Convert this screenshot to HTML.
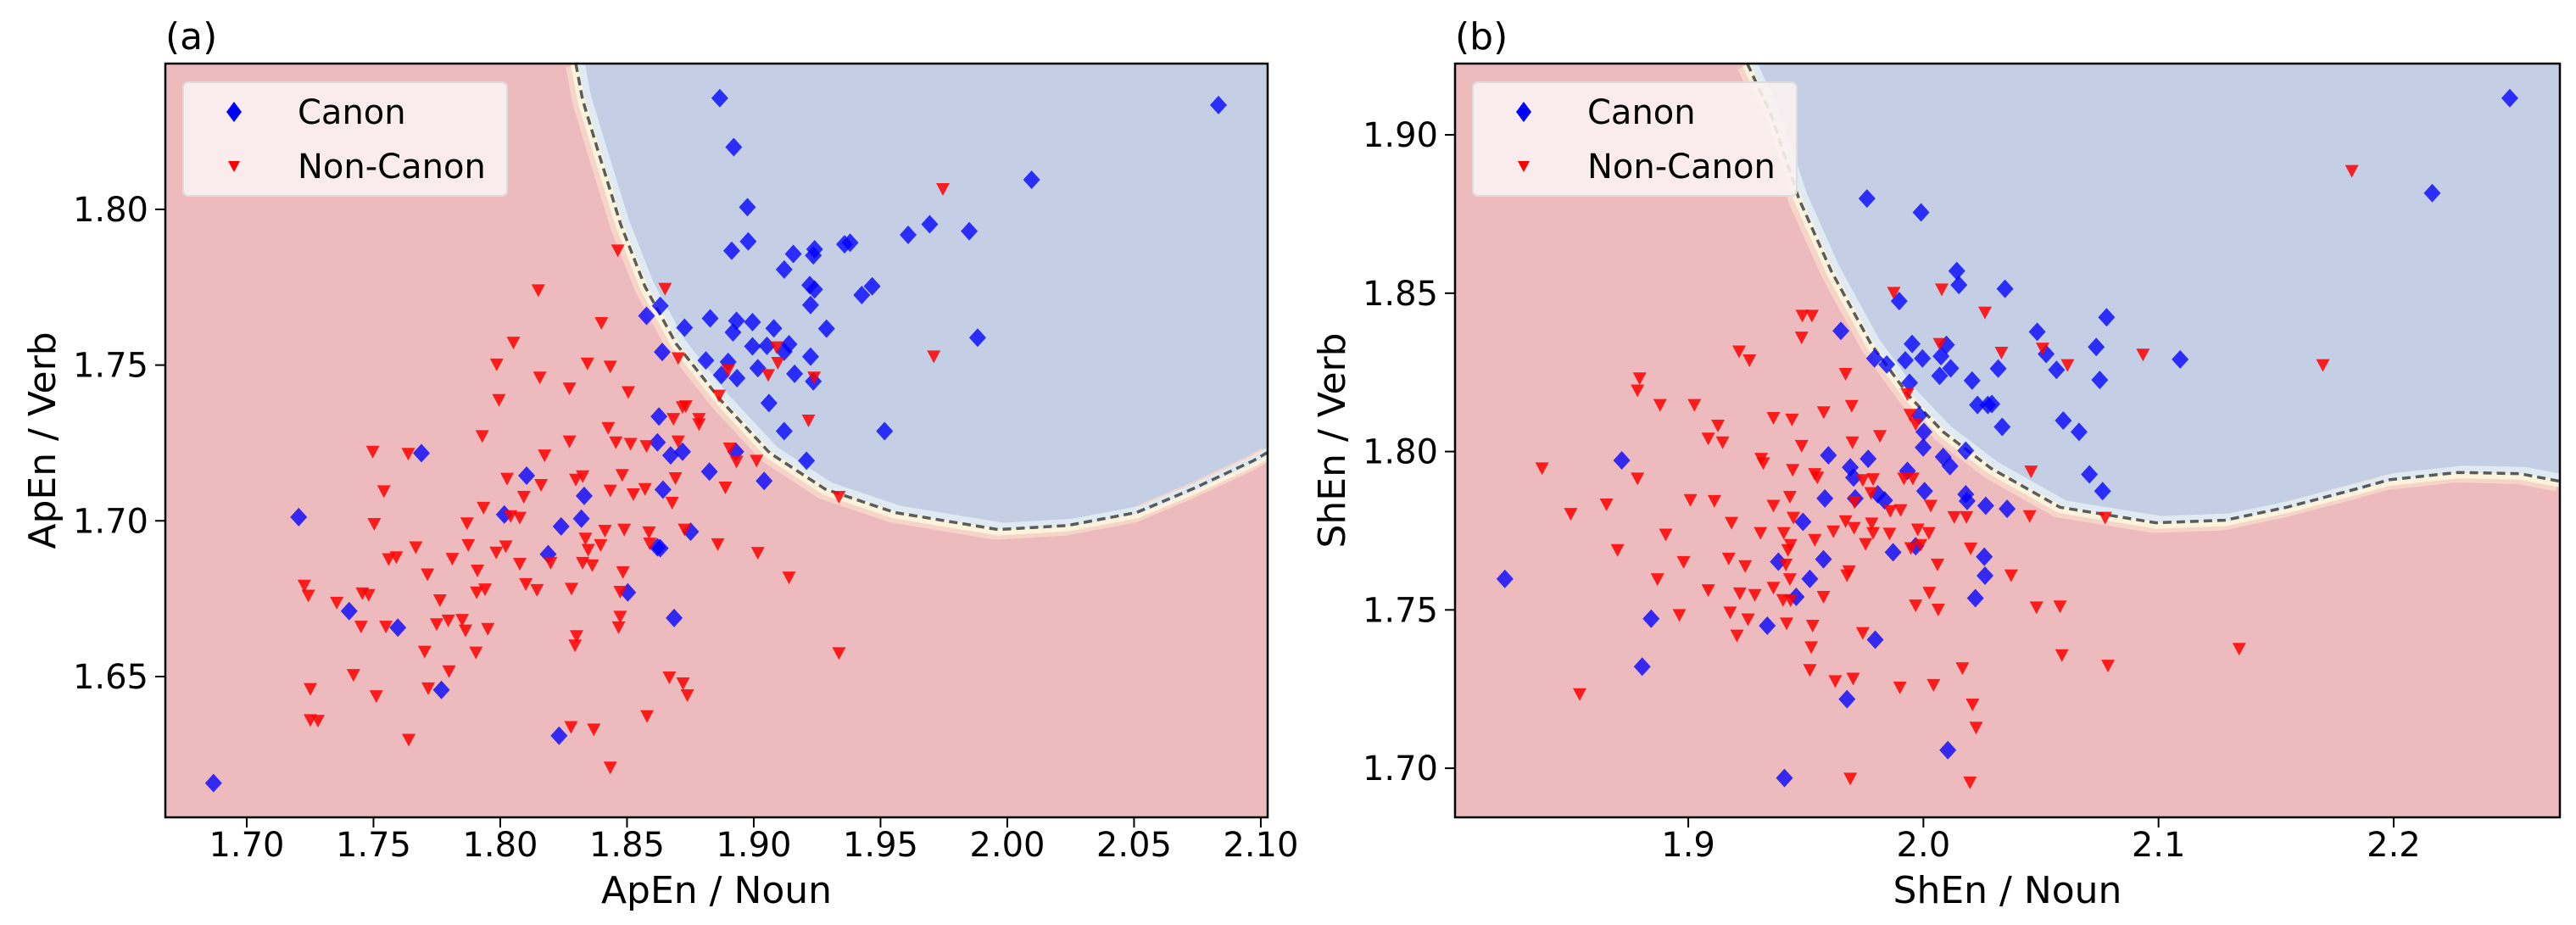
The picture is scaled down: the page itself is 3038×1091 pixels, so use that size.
<!DOCTYPE html>
<html><head><meta charset="utf-8"><style>
html,body{margin:0;padding:0;background:#fff;}
svg{display:block;font-family:"DejaVu Sans","Liberation Sans",sans-serif;}
</style></head><body>
<svg id="chart" width="3038" height="1091" viewBox="0 0 3038 1091" xmlns="http://www.w3.org/2000/svg"></svg>
<script>
// ---------- Panel (a) data ----------
const aTicksX = [1.70,1.75,1.80,1.85,1.90,1.95,2.00,2.05,2.10];
const aTicksY = [1.65,1.70,1.75,1.80];
const aCanonX = [1.8866,2.0833,1.8921,2.0096,1.8975,1.9694,1.9609,1.9850,1.8978,1.8913,1.9156,1.9240,1.9235,1.9120,1.9358,1.9380,1.9221,1.9240,1.9426,1.9467,1.9224,1.8631,1.8577,1.8828,1.8932,1.8995,1.8727,1.8918,1.9079,1.9287,1.8995,1.9052,1.9139,1.9120,1.9224,1.9883,1.8639,1.8811,1.8899,1.9016,1.8872,1.8934,1.9161,1.9235,1.9060,1.9120,1.9516,1.9208,1.8626,1.8620,1.8672,1.8719,1.8929,1.8825,1.9041,1.8642,1.7689,1.8104,1.8331,1.7205,1.8016,1.8320,1.8240,1.8189,1.8751,1.8620,1.8631,1.8503,1.7404,1.7596,1.8686,1.7768,1.8232,1.6869];
const aCanonY = [1.8357,1.8335,1.8200,1.8095,1.8007,1.7952,1.7918,1.7930,1.7897,1.7867,1.7857,1.7872,1.7852,1.7807,1.7888,1.7893,1.7757,1.7743,1.7725,1.7753,1.7693,1.7690,1.7658,1.7650,1.7642,1.7638,1.7620,1.7605,1.7618,1.7617,1.7560,1.7562,1.7567,1.7543,1.7527,1.7588,1.7542,1.7515,1.7510,1.7490,1.7468,1.7458,1.7472,1.7448,1.7378,1.7288,1.7288,1.7193,1.7335,1.7252,1.7210,1.7222,1.7222,1.7158,1.7128,1.7100,1.7217,1.7145,1.7080,1.7012,1.7020,1.7007,1.6982,1.6893,1.6965,1.6915,1.6912,1.6770,1.6710,1.6657,1.6688,1.6457,1.6310,1.6158];
const aNonX = [1.8464,1.8150,1.8650,1.8399,1.8052,1.7986,1.8344,1.8434,1.8156,1.7995,1.8273,1.8505,1.8702,1.8732,1.8719,1.8784,1.8683,1.8784,1.8863,1.8899,1.9057,1.9090,1.9095,1.9238,1.9216,1.9746,1.9710,1.8426,1.7929,1.8273,1.8456,1.8514,1.8577,1.8702,1.8905,1.8932,1.9011,1.7497,1.7637,1.8175,1.7541,1.8027,1.8161,1.8298,1.8325,1.8481,1.8691,1.8434,1.8525,1.8571,1.8678,1.8888,1.9336,1.8093,1.7934,1.7503,1.7869,1.8041,1.8077,1.8413,1.8489,1.8587,1.8727,1.7667,1.7874,1.8022,1.8336,1.8396,1.8590,1.8858,1.9016,1.8347,1.7590,1.7560,1.7811,1.7984,1.8077,1.8199,1.8325,1.8363,1.8484,1.7713,1.7910,1.9139,1.7227,1.7243,1.7940,1.7907,1.8101,1.8145,1.8281,1.8473,1.7355,1.7456,1.7481,1.7762,1.7451,1.7549,1.7749,1.7795,1.7850,1.7863,1.7951,1.8473,1.8467,1.8301,1.8295,1.7702,1.7904,1.9336,1.7798,1.7421,1.7251,1.7716,1.7511,1.8667,1.8721,1.8738,1.7251,1.7281,1.7639,1.8279,1.8369,1.8579,1.8434];
const aNonY = [1.7868,1.7740,1.7745,1.7635,1.7572,1.7502,1.7505,1.7495,1.7460,1.7388,1.7425,1.7413,1.7522,1.7368,1.7365,1.7327,1.7327,1.7310,1.7402,1.7483,1.7468,1.7557,1.7507,1.7460,1.7322,1.8065,1.7528,1.7298,1.7272,1.7255,1.7252,1.7247,1.7240,1.7255,1.7232,1.7190,1.7193,1.7222,1.7215,1.7210,1.7095,1.7135,1.7115,1.7132,1.7143,1.7147,1.7137,1.7097,1.7085,1.7102,1.7058,1.7107,1.7077,1.7077,1.7042,1.6990,1.6992,1.7015,1.7010,1.6968,1.6972,1.6963,1.6972,1.6915,1.6922,1.6918,1.6943,1.6922,1.6927,1.6925,1.6897,1.6907,1.6883,1.6877,1.6878,1.6898,1.6862,1.6865,1.6865,1.6857,1.6835,1.6828,1.6840,1.6818,1.6792,1.6760,1.6780,1.6770,1.6797,1.6778,1.6782,1.6772,1.6737,1.6767,1.6762,1.6745,1.6660,1.6660,1.6668,1.6680,1.6682,1.6648,1.6653,1.6692,1.6658,1.6630,1.6600,1.6580,1.6577,1.6575,1.6517,1.6505,1.6460,1.6462,1.6437,1.6497,1.6478,1.6440,1.6360,1.6358,1.6297,1.6338,1.6330,1.6373,1.6208];
const aBoundX = [1.8298,1.8325,1.8393,1.8475,1.8571,1.8694,1.8872,1.9063,1.9281,1.9555,1.9964,2.0238,2.0511,2.0730,2.0970,2.1027];
const aBoundY = [1.8468,1.8352,1.8168,1.7952,1.7752,1.7568,1.7385,1.7218,1.7102,1.7027,1.6972,1.6985,1.7027,1.7102,1.7193,1.7220];

// ---------- Panel (b) data ----------
const bTicksX = [1.9,2.0,2.1,2.2];
const bTicksY = [1.70,1.75,1.80,1.85,1.90];
const bCanonX = [2.2494,2.2164,1.9760,1.9990,2.0142,2.0151,2.0347,1.9897,2.0779,2.0484,1.9649,1.9952,2.0098,2.0735,2.1092,1.9792,1.9844,1.9923,1.9996,2.0075,2.0116,2.0069,2.0318,2.0522,2.0566,2.0750,1.9941,2.0207,2.0230,2.0274,2.0291,2.0335,2.0595,2.0662,1.9982,2.0002,1.9999,2.0180,2.0084,2.0113,2.0706,2.0762,1.9596,1.9765,1.9689,1.9703,1.9932,1.8717,1.9806,1.9835,1.9710,1.9581,2.0005,2.0180,2.0186,2.0265,2.0356,1.9488,1.9871,1.9967,1.9575,2.0259,1.9383,2.0262,1.9517,1.9459,2.0221,1.8220,1.8842,1.9336,1.9795,1.8804,1.9675,2.0104,1.9409];
const bCanonY = [1.9116,1.8816,1.8799,1.8755,1.8570,1.8526,1.8514,1.8475,1.8424,1.8378,1.8381,1.8340,1.8337,1.8330,1.8291,1.8294,1.8275,1.8288,1.8294,1.8301,1.8263,1.8239,1.8262,1.8308,1.8258,1.8226,1.8217,1.8224,1.8147,1.8147,1.8150,1.8078,1.8098,1.8062,1.8114,1.8062,1.8013,1.8003,1.7983,1.7954,1.7928,1.7875,1.7988,1.7977,1.7950,1.7918,1.7939,1.7972,1.7865,1.7846,1.7852,1.7852,1.7875,1.7865,1.7844,1.7829,1.7819,1.7778,1.7682,1.7701,1.7660,1.7668,1.7652,1.7608,1.7598,1.7541,1.7537,1.7598,1.7472,1.7450,1.7406,1.7321,1.7218,1.7057,1.6969];
const bNonX = [2.1822,1.9874,2.0078,2.0262,1.9485,1.9526,1.9482,1.9216,1.9260,2.0069,2.0332,2.0507,2.0613,2.0934,2.1699,1.9669,1.8793,1.8784,1.8880,1.9026,1.9695,1.9576,1.9362,1.9441,1.9932,1.9944,1.9967,1.9126,1.9085,1.9146,1.9698,1.9815,1.9482,1.8378,1.9310,1.9319,1.9444,1.9538,1.9549,1.8784,1.9742,1.9786,1.9917,1.9955,2.0458,1.9777,1.8652,1.8500,1.9009,1.9111,1.9432,1.9362,1.9707,1.9859,1.9903,2.0031,2.0131,2.0183,2.0452,2.0773,1.9447,1.9184,1.9669,1.9780,1.8904,1.9307,1.9406,1.9538,1.9617,1.9705,1.9786,1.9856,1.9976,2.0023,1.8699,1.9435,1.9424,1.9754,1.9947,1.9988,2.0201,1.8980,1.9172,1.9415,1.9242,2.0060,1.9684,1.9675,1.8869,1.9432,2.0373,1.9085,1.9219,1.9283,1.9362,1.9403,1.9435,1.9575,2.0025,1.9967,2.0063,2.0481,2.0581,1.8962,1.9178,1.9254,1.9418,1.9529,1.9207,1.9742,1.9523,2.0589,2.0785,2.1343,1.9517,2.0166,1.9625,1.9701,1.8538,1.9900,2.0043,2.0209,2.0224,1.9689,2.0198];
const bNonY = [1.8886,1.8501,1.8512,1.8439,1.8429,1.8429,1.8360,1.8316,1.8288,1.8340,1.8312,1.8325,1.8273,1.8306,1.8273,1.8245,1.8231,1.8193,1.8147,1.8147,1.8144,1.8124,1.8106,1.8101,1.8181,1.8116,1.8087,1.8082,1.8041,1.8029,1.8029,1.8049,1.8018,1.7947,1.7977,1.7963,1.7942,1.7929,1.7918,1.7915,1.7910,1.7913,1.7915,1.7915,1.7937,1.7869,1.7833,1.7803,1.7847,1.7844,1.7857,1.7829,1.7840,1.7812,1.7815,1.7829,1.7793,1.7793,1.7796,1.7791,1.7791,1.7775,1.7780,1.7773,1.7738,1.7743,1.7743,1.7721,1.7748,1.7759,1.7743,1.7741,1.7754,1.7743,1.7689,1.7705,1.7689,1.7708,1.7695,1.7705,1.7694,1.7651,1.7662,1.7643,1.7638,1.7643,1.7622,1.7609,1.7597,1.7597,1.7609,1.7562,1.7552,1.7547,1.7570,1.7531,1.7530,1.7541,1.7554,1.7514,1.7501,1.7508,1.7511,1.7484,1.7492,1.7470,1.7457,1.7450,1.7419,1.7427,1.7382,1.7357,1.7324,1.7377,1.7310,1.7316,1.7275,1.7283,1.7234,1.7255,1.7263,1.7201,1.7128,1.6967,1.6955];
const bBoundX = [1.9251,1.9353,1.9470,1.9608,1.9777,1.9938,2.0084,2.0288,2.0581,2.0989,2.1282,2.1545,2.1837,2.1983,2.2275,2.2538,2.2707];
const bBoundY = [1.9225,1.9062,1.8799,1.8570,1.8340,1.8176,1.8062,1.7947,1.7824,1.7775,1.7783,1.7824,1.7881,1.7911,1.7934,1.7930,1.7906];

const NS = 'http://www.w3.org/2000/svg';
const svg = document.getElementById('chart');
function mk(tag, attrs, parent){const e=document.createElementNS(NS,tag);for(const k in attrs)e.setAttribute(k,attrs[k]);(parent||svg).appendChild(e);return e;}

function panel(cfg){
  const {L,R,T,B,x0,x1,y0,y1} = cfg;
  const sx = v => L + (v - x0) / (x1 - x0) * (R - L);
  const sy = v => B - (v - y0) / (y1 - y0) * (B - T);
  const g = mk('g', {});
  
  
  const clipId = cfg.name + '-clip';
  const defs = mk('defs', {}, g);
  const cp = mk('clipPath', {id: clipId}, defs);
  mk('rect', {x:L, y:T, width:R-L, height:B-T}, cp);
  const bg = mk('rect', {x:L, y:T, width:R-L, height:B-T, fill:'#edbbbd'}, g);
  
  
  const pg = mk('g', {'clip-path': 'url(#' + clipId + ')'}, g);
  let pts = cfg.bx.map((v,i) => sx(v).toFixed(1) + ',' + sy(cfg.by[i]).toFixed(1));
  const curve = 'M' + pts.join(' L');
  const region = mk('path', {d: curve + ' L' + (R+5) + ',' + (T-5) + ' L' + sx(cfg.bx[0]) + ',' + (T-5) + ' Z', fill:'#c4cfe6'}, pg);
  
  
  const b1 = mk('path', {d: curve, fill:'none', stroke:'#f6d4c8', 'stroke-width':18, transform:'translate(-3,3)'}, pg);
  
  
  const b2 = mk('path', {d: curve, fill:'none', stroke:'#fbf3dc', 'stroke-width':12, transform:'translate(0,1)'}, pg);
  
  
  const b3 = mk('path', {d: curve, fill:'none', stroke:'#dfeaf2', 'stroke-width':8, transform:'translate(6,-4)'}, pg);
  
  
  const dash = mk('path', {d: curve, fill:'none', stroke:'#4a4a4a', 'stroke-width':3.5, 'stroke-dasharray':'10,6', opacity:0.9}, pg);
  
  
  for (let i=0;i<cfg.cx.length;i++){
    const x=sx(cfg.cx[i]), y=sy(cfg.cy[i]);
    const p = mk('polygon', {points:`${x},${y-11} ${x+10},${y} ${x},${y+11} ${x-10},${y}`, fill:'#0000ff', 'fill-opacity':0.78}, pg);
    
    
  }
  for (let i=0;i<cfg.nx.length;i++){
    const x=sx(cfg.nx[i]), y=sy(cfg.ny[i]);
    const p = mk('polygon', {points:`${x-8},${y-7} ${x+8},${y-7} ${x},${y+8}`, fill:'#ff0000', 'fill-opacity':0.85}, pg);
    
    
  }
  const lg = mk('g', {}, g);
  
  
  const lx = L + 21;
  mk('rect', {x:lx, y:97, width:cfg.legW, height:134, rx:6, fill:'#fbf1f1', 'fill-opacity':0.9, stroke:'#dddddd', 'stroke-width':2}, lg);
  const d1 = mk('polygon', {points:`${lx+60},${120} ${lx+69},${132} ${lx+60},${144} ${lx+51},${132}`, fill:'#0000ff'}, lg);
  
  
  const t1 = mk('text', {x:lx+135, y:146, 'font-size':40, fill:'#000'}, lg); t1.textContent='Canon';
  
  
  const d2 = mk('polygon', {points:`${lx+53},${190} ${lx+67},${190} ${lx+60},${203}`, fill:'#ff0000'}, lg);
  
  
  const t2 = mk('text', {x:lx+135, y:210, 'font-size':40, fill:'#000'}, lg); t2.textContent='Non-Canon';
  
  
  mk('rect', {x:L, y:T, width:R-L, height:B-T, fill:'none', stroke:'#000', 'stroke-width':2.5}, g);
  cfg.tx.forEach(v=>{
    const x=sx(v);
    mk('line',{x1:x,y1:B,x2:x,y2:B+12,stroke:'#000','stroke-width':2},g);
    const t=mk('text',{x:x,y:1010,'font-size':40,'text-anchor':'middle',fill:'#000'},g);
    t.textContent = v.toFixed(cfg.xdec);
    
    
  });
  cfg.ty.forEach(v=>{
    const y=sy(v);
    mk('line',{x1:L-12,y1:y,x2:L,y2:y,stroke:'#000','stroke-width':2},g);
    const t=mk('text',{x:L-20,y:y+14,'font-size':40,'text-anchor':'end',fill:'#000'},g);
    t.textContent = v.toFixed(2);
    
    
  });
  const xl = mk('text',{x:(L+R)/2,y:1065,'font-size':44,'text-anchor':'middle',fill:'#000'},g);
  xl.textContent = cfg.xlabel;
  
  
  const yl = mk('text',{x:0,y:0,'font-size':44,'text-anchor':'middle',fill:'#000',transform:`translate(${L-130},${(T+B)/2}) rotate(-90)`},g);
  yl.textContent = cfg.ylabel;
  
  
  const pl = mk('text',{x:L,y:58,'font-size':44,fill:'#000'},g);
  pl.textContent = cfg.tag;
  
  
}

panel({name:'panel-a', L:195, R:1495, T:75, B:964, x0:1.6679, x1:2.1027, y0:1.6048, y1:1.8468,
  cx:aCanonX, cy:aCanonY, nx:aNonX, ny:aNonY, bx:aBoundX, by:aBoundY, tx:aTicksX, ty:aTicksY, xdec:2,
  xlabel:'ApEn / Noun', ylabel:'ApEn / Verb', tag:'(a)', legW:382});
panel({name:'panel-b', L:1716, R:3019, T:75, B:964, x0:1.8008, x1:2.2707, y0:1.6845, y1:1.9225,
  cx:bCanonX, cy:bCanonY, nx:bNonX, ny:bNonY, bx:bBoundX, by:bBoundY, tx:bTicksX, ty:bTicksY, xdec:1,
  xlabel:'ShEn / Noun', ylabel:'ShEn / Verb', tag:'(b)', legW:382});
</script>
</body></html>
